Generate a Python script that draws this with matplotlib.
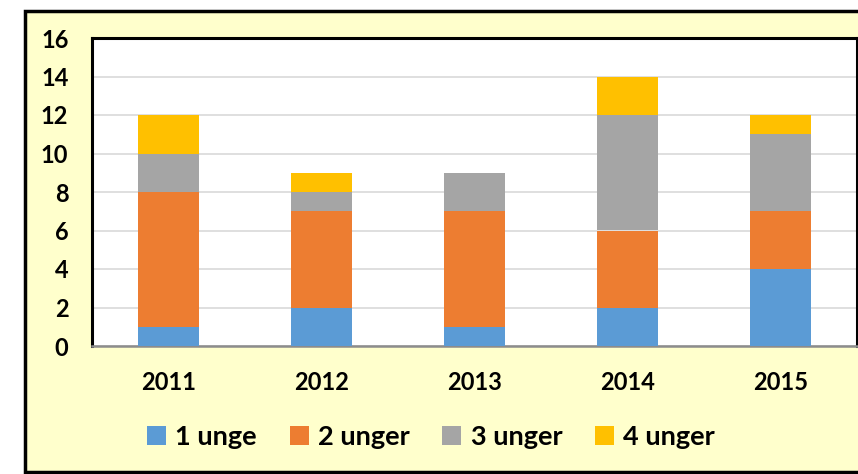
import matplotlib.pyplot as plt
from matplotlib.patches import Rectangle
import numpy as np

plt.rcParams['font.family'] = ['Lato', 'DejaVu Sans']
plt.rcParams['font.weight'] = 'bold'

years = ['2011', '2012', '2013', '2014', '2015']
one_chick = [1, 2, 1, 2, 4]
two_chicks = [7, 5, 6, 4, 3]
three_chicks = [2, 1, 2, 6, 4]
four_chicks = [2, 1, 0, 2, 1]
labels = ['1 unge', '2 unger', '3 unger', '4 unger']
colors = ['#5B9BD5', '#ED7D31', '#A5A5A5', '#FFC000']

fig = plt.figure(figsize=(8.58, 4.74), dpi=100)
fig.patch.set_facecolor('white')

# outer chart frame (right edge runs off the image)
frame = Rectangle((25 / 858, 2 / 474), 1.0, 461 / 474, transform=fig.transFigure,
                  facecolor='#FFFFCC', edgecolor='black', linewidth=2.5, zorder=-10)
fig.add_artist(frame)

ax = fig.add_axes([92 / 858, 1 - 346 / 474, 765 / 858, 308 / 474])
ax.set_facecolor('white')

x = np.arange(len(years))
bottom = np.zeros(len(years))
series = [one_chick, two_chicks, three_chicks, four_chicks]
for vals, lab, col in zip(series, labels, colors):
    ax.bar(x, vals, width=0.4, bottom=bottom, color=col, label=lab, zorder=3)
    bottom += np.array(vals)

ax.set_xlim(-0.5, 4.5)
ax.set_ylim(0, 16)
ax.set_yticks(range(0, 17, 2))
ax.set_xticks(x)
ax.set_xticklabels(years)
ax.grid(axis='y', color='#D9D9D9', linewidth=1.2, zorder=0)
ax.tick_params(axis='y', length=0, pad=17, labelsize=17)
ax.tick_params(axis='x', length=0, pad=18, labelsize=17)

for side in ['left', 'top', 'right']:
    ax.spines[side].set_color('black')
    ax.spines[side].set_linewidth(2.2)
ax.spines['bottom'].set_color('#8C8C8C')
ax.spines['bottom'].set_linewidth(1.8)

fig.legend(loc='center', bbox_to_anchor=(431 / 858, 1 - 437 / 474), ncol=4,
           frameon=False, fontsize=19.5, handlelength=0.7, handleheight=0.7,
           handletextpad=0.35, columnspacing=1.2)

fig.savefig('out.png', dpi=100)
